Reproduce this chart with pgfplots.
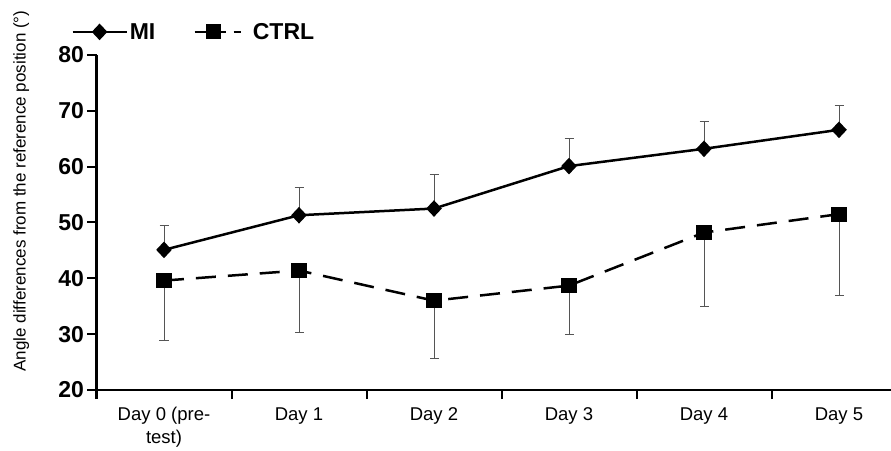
\documentclass[border=0pt]{standalone}
\usepackage{fontspec}
\setmainfont{Liberation Sans}
\usepackage{pgfplots}
\pgfplotsset{compat=1.18}
\definecolor{errgray}{RGB}{85,85,85}
% legend image for the dashed series: solid piece, mark, short dash
\pgfplotsset{ctrllegend/.style={legend image code/.code={
    \draw[##1, solid, mark=none] (0bp,0bp) -- (31bp,0bp);
    \draw[##1, solid, mark=none] (39bp,0bp) -- (46bp,0bp);
    \draw[##1, only marks] plot coordinates {(19bp,0bp)};
    \path (55bp,0bp);
}}}
\begin{document}
\begin{tikzpicture}
\useasboundingbox (0,0) rectangle (891bp,451bp);
\begin{axis}[
    at={(96.5bp,61bp)}, anchor=south west,
    scale only axis,
    width=810bp, height=335bp,
    xmin=-0.5, xmax=5.5,
    ymin=20, ymax=80,
    ytick={20,30,...,80},
    xtick={0,...,5},
    xticklabels={{Day 0 (pre-\\test)},Day 1,Day 2,Day 3,Day 4,Day 5},
    xticklabel style={align=center, font=\fontsize{18.5bp}{23bp}\selectfont, yshift=-5bp},
    yticklabel style={font=\bfseries\fontsize{23bp}{25bp}\selectfont},
    /pgf/number format/assume math mode=true,
    axis x line*=bottom, axis y line*=left,
    axis line style={line width=2.5bp, -},
    tick align=outside,
    major tick length=9bp,
    every tick/.style={black, line width=2bp},
    x tick style={draw=none},
    extra x ticks={-0.5,0.5,1.5,2.5,3.5,4.5,5.5},
    extra x tick labels={},
    extra x tick style={x tick style={draw=black, line width=2bp}, major tick length=9bp},
    ylabel={Angle differences from the reference position (°)},
    every axis y label/.style={at={(axis description cs:-0.093,0.594)}, rotate=90, anchor=center, font=\fontsize{17bp}{19bp}\selectfont},
    legend columns=2,
    legend style={at={(axis description cs:-0.035,1.069)}, anchor=west, draw=none, fill=none,
        font=\bfseries\fontsize{23bp}{25bp}\selectfont,
        /tikz/every even column/.append style={column sep=36bp}},
    legend image code/.code={
        \draw[mark repeat=2, mark phase=2, #1] plot coordinates {(0bp,0bp) (27bp,0bp) (54bp,0bp)};
    },
]
\addplot[black, line width=2.5bp, mark=diamond*, mark size=6.5bp,
    mark options={solid, xscale=1.25},
    error bars/.cd, y dir=plus, y explicit,
    error bar style={solid, line width=1bp, errgray},
    error mark options={rotate=90, mark size=4.5bp, line width=1bp, errgray}]
coordinates {
(0,45.1) +- (0,4.3)
(1,51.3) +- (0,4.9)
(2,52.5) +- (0,6.1)
(3,60.1) +- (0,4.9)
(4,63.2) +- (0,4.9)
(5,66.6) +- (0,4.3)
};
\addlegendentry{MI}
\addplot[black, line width=2.5bp, dash pattern=on 20bp off 12bp, mark=square*, mark size=6.3bp,
    mark options={solid}, ctrllegend,
    error bars/.cd, y dir=minus, y explicit,
    error bar style={solid, line width=1bp, errgray},
    error mark options={rotate=90, mark size=4.5bp, line width=1bp, errgray}]
coordinates {
(0,39.6) +- (0,10.8)
(1,41.4) +- (0,11.1)
(2,36.0) +- (0,10.3)
(3,38.7) +- (0,8.7)
(4,48.2) +- (0,13.3)
(5,51.5) +- (0,14.5)
};
\addlegendentry{CTRL}
\end{axis}
\end{tikzpicture}
\end{document}
